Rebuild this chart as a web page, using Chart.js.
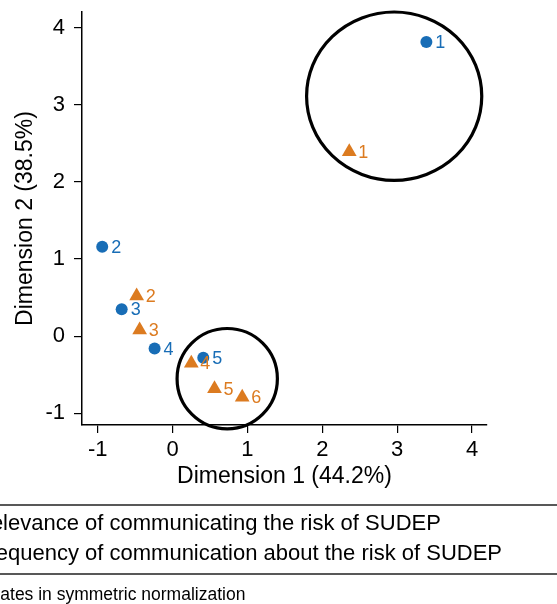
<!DOCTYPE html>
<html>
<head>
<meta charset="utf-8">
<script src="https://cdn.jsdelivr.net/npm/chart.js@4"></script>
<style>
  html, body { margin: 0; padding: 0; background: #fff; }
  #wrap { width: 557px; height: 604px; }
</style>
</head>
<body>
<div id="wrap"><canvas id="chart" width="557" height="604"></canvas></div>
<script>
// Data
const relevanceLabels = ['1', '2', '3', '4', '5'];
const relevanceX = [3.39, -0.94, -0.68, -0.24, 0.41];
const relevanceY = [3.81, 1.16, 0.35, -0.16, -0.28];

const frequencyLabels = ['1', '2', '3', '4', '5', '6'];
const frequencyX = [2.36, -0.48, -0.44, 0.25, 0.56, 0.93];
const frequencyY = [2.39, 0.52, 0.08, -0.35, -0.68, -0.79];

const seriesNames = [
    'Relevance of communicating the risk of SUDEP',
    'Frequency of communication about the risk of SUDEP'
];

const xTicks = [-1, 0, 1, 2, 3, 4];
const yTicks = [-1, 0, 1, 2, 3, 4];

// highlighted groups (centre and radii in data units)
const groupCx = [2.96, 0.73];
const groupCy = [3.11, -0.55];
const groupRx = [1.17, 0.67];
const groupRy = [1.09, 0.65];

const noteText = 'Coordinates in symmetric normalization';

const FONT = '"Liberation Sans", Arial, sans-serif';
const BLUE = '#186db6';
const ORANGE = '#dc7b20';

function toPoints(xs, ys) {
    return xs.map(function(x, i) { return { x: x, y: ys[i] }; });
}

// Draw the two group circles under the markers
const groupCircles = {
    id: 'groupCircles',
    beforeDatasetsDraw: function(chart) {
        const ctx = chart.ctx;
        const xs = chart.scales.x;
        const ys = chart.scales.y;
        ctx.save();
        ctx.strokeStyle = '#000';
        ctx.lineWidth = 3.2;
        groupCx.forEach(function(cx, i) {
            const px = xs.getPixelForValue(cx);
            const py = ys.getPixelForValue(groupCy[i]);
            const rx = Math.abs(xs.getPixelForValue(cx + groupRx[i]) - px);
            const ry = Math.abs(ys.getPixelForValue(groupCy[i] + groupRy[i]) - py);
            ctx.beginPath();
            ctx.ellipse(px, py, rx, ry, 0, 0, Math.PI * 2);
            ctx.stroke();
        });
        ctx.restore();
    }
};

// Number labels to the right of each marker
const pointLabels = {
    id: 'pointLabels',
    afterDatasetsDraw: function(chart) {
        const ctx = chart.ctx;
        ctx.save();
        ctx.font = '18px ' + FONT;
        ctx.textAlign = 'left';
        ctx.textBaseline = 'middle';
        chart.data.datasets.forEach(function(ds, di) {
            const meta = chart.getDatasetMeta(di);
            ctx.fillStyle = ds.backgroundColor;
            meta.data.forEach(function(el, i) {
                ctx.fillText(ds.pointLabels[i], el.x + 9, el.y + 1);
            });
        });
        ctx.restore();
    }
};

// Legend box and note below the plot (cropped on the left like the source)
const bottomLegend = {
    id: 'bottomLegend',
    afterDraw: function(chart) {
        const ctx = chart.ctx;
        const w = chart.width;
        ctx.save();
        ctx.strokeStyle = '#222';
        ctx.lineWidth = 1.5;
        ctx.beginPath();
        ctx.moveTo(0, 505); ctx.lineTo(w, 505);
        ctx.moveTo(0, 574); ctx.lineTo(w, 574);
        ctx.stroke();

        ctx.fillStyle = '#000';
        ctx.textAlign = 'left';
        ctx.textBaseline = 'alphabetic';
        ctx.font = '22px ' + FONT;
        ctx.fillText(seriesNames[0], -25, 530);
        ctx.fillText(seriesNames[1], -25, 560);

        ctx.font = '17.5px ' + FONT;
        ctx.fillText(noteText, -61, 600);
        ctx.restore();
    }
};

new Chart(document.getElementById('chart').getContext('2d'), {
    type: 'scatter',
    data: {
        datasets: [
            {
                label: seriesNames[0],
                data: toPoints(relevanceX, relevanceY),
                pointLabels: relevanceLabels,
                backgroundColor: BLUE,
                borderWidth: 0,
                pointStyle: 'circle',
                pointRadius: 6
            },
            {
                label: seriesNames[1],
                data: toPoints(frequencyX, frequencyY),
                pointLabels: frequencyLabels,
                backgroundColor: ORANGE,
                borderWidth: 0,
                pointStyle: 'triangle',
                pointRadius: 8.5
            }
        ]
    },
    options: {
        responsive: false,
        animation: false,
        layout: {
            padding: { top: 12, right: 70, bottom: 111, left: 0 }
        },
        plugins: {
            legend: { display: false },
            tooltip: { enabled: false }
        },
        scales: {
            x: {
                type: 'linear',
                min: -1.21,
                max: 4.2,
                afterBuildTicks: function(s) {
                    s.ticks = xTicks.map(function(v) { return { value: v }; });
                },
                afterFit: function(s) {
                    s.height = 68;
                    s.paddingLeft = 0;
                    s.paddingRight = 0;
                },
                grid: { drawOnChartArea: false, drawTicks: true, tickLength: 8, color: '#000', lineWidth: 1.2 },
                border: { display: true, color: '#000', width: 1.5 },
                ticks: { color: '#000', font: { family: FONT, size: 22 }, padding: 4, maxRotation: 0 },
                title: {
                    display: true,
                    text: 'Dimension 1 (44.2%)',
                    color: '#000',
                    font: { family: FONT, size: 23 },
                    padding: { top: 0, bottom: 3 }
                }
            },
            y: {
                type: 'linear',
                min: -1.15,
                max: 4.2,
                afterBuildTicks: function(s) {
                    s.ticks = yTicks.map(function(v) { return { value: v }; });
                },
                afterFit: function(s) {
                    s.width = 82;
                    s.paddingTop = 0;
                    s.paddingBottom = 0;
                },
                grid: { drawOnChartArea: false, drawTicks: true, tickLength: 8, color: '#000', lineWidth: 1.2 },
                border: { display: true, color: '#000', width: 1.5 },
                ticks: { color: '#000', font: { family: FONT, size: 22 }, padding: 9 },
                title: {
                    display: true,
                    text: 'Dimension 2 (38.5%)',
                    color: '#000',
                    font: { family: FONT, size: 23 },
                    padding: { top: 12, bottom: 0 }
                }
            }
        }
    },
    plugins: [groupCircles, pointLabels, bottomLegend]
});
</script>
</body>
</html>
